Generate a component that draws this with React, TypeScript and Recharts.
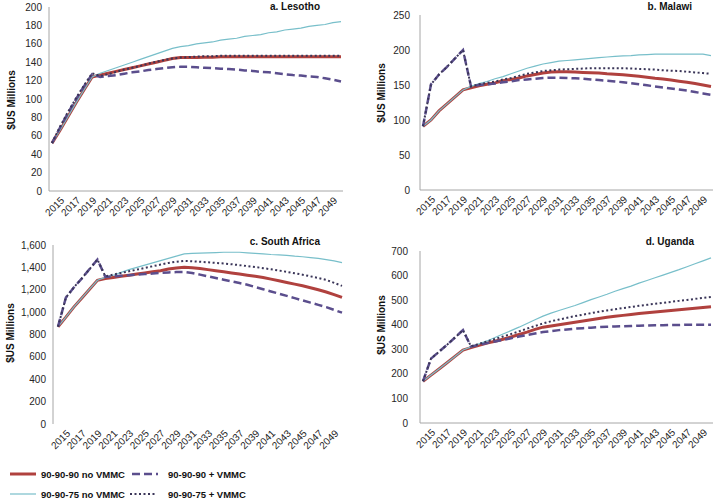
import React from 'react';
import { LineChart, Line, XAxis, YAxis } from 'recharts';

// years on the x axis
const years = [
  2014, 2015, 2016, 2017, 2018, 2019, 2020, 2021, 2022, 2023, 2024, 2025, 2026,
  2027, 2028, 2029, 2030, 2031, 2032, 2033, 2034, 2035, 2036, 2037, 2038, 2039,
  2040, 2041, 2042, 2043, 2044, 2045, 2046, 2047, 2048, 2049, 2050,
];
const yearTicks = [
  2015, 2017, 2019, 2021, 2023, 2025, 2027, 2029, 2031, 2033, 2035, 2037, 2039,
  2041, 2043, 2045, 2047, 2049,
];

// a. Lesotho
const lesothoNoVmmc90 = [
  52, 66, 81, 96, 110, 124, 126, 128, 130, 132, 134, 136, 138, 140, 142, 144, 145, 145, 145,
  145.5, 145.5, 146, 146, 146, 146, 146, 146, 146, 146, 146, 146, 146, 146, 146, 146, 146, 146,
];
const lesothoVmmc90 = [
  52, 69, 85, 100, 114, 127, 124, 125, 126, 127.5, 129, 130, 131.5, 132.5, 133.5, 134.5, 135,
  135, 134.5, 134, 133.5, 133, 132.5, 132, 131, 130.5, 129.5, 129, 128, 127, 126, 125.5, 124.5,
  124, 122.5, 121, 119,
];
const lesothoNoVmmc75 = [
  52, 66, 81, 96, 110, 124, 128, 131, 134, 137, 140, 143, 146, 149, 152, 155, 157, 158, 160,
  161, 162, 164, 165, 166, 168, 169, 170, 172, 173, 175, 176, 177, 179, 180, 181, 183, 184,
];
const lesothoVmmc75 = [
  52, 70, 86, 101, 115, 128, 125, 127, 129.5, 132, 134, 136, 138.5, 140.5, 142.5, 144, 145,
  145.5, 146, 146.5, 146.5, 147, 147, 147, 147, 147, 147, 147, 147, 147, 147, 147, 147, 147,
  147, 147, 147,
];

// b. Malawi
const malawiNoVmmc90 = [
  91, 100, 113, 123, 133, 143, 146, 149, 151, 153, 156, 158, 160, 163, 165, 167, 168.5, 169,
  169, 168.5, 168, 167.5, 167, 166, 165.5, 164.5, 163.5, 162.5, 161, 159.5, 158.5, 157, 155.5,
  154, 152, 150, 148,
];
const malawiVmmc90 = [
  91, 151, 165, 176, 188, 200, 148, 150, 151, 152, 154, 155, 157, 158, 159, 160, 160.5, 160.5,
  160, 159.5, 159, 158, 157, 156, 155, 154, 152.5, 151, 149.5, 148, 146.5, 145, 143.5, 142,
  140, 138, 136,
];
const malawiNoVmmc75 = [
  91, 100, 113, 123, 133, 143, 148, 152, 155, 159, 162, 166, 170, 174, 177, 180, 182, 184, 185,
  186, 187, 188, 189, 190, 191, 191.5, 192, 193, 193.5, 194, 194, 194, 194, 194, 194, 194, 192,
];
const malawiVmmc75 = [
  91, 151, 165, 176, 188, 200, 148, 151, 153, 155, 158, 160, 163, 166, 168, 170, 171, 172,
  172.5, 173, 173.5, 174, 174, 174, 174, 174, 173.5, 173, 172.5, 172, 171, 170.5, 170, 169,
  168, 167, 166,
];

// c. South Africa
const southAfricaNoVmmc90 = [
  870, 955, 1045, 1125, 1205, 1285, 1300, 1310, 1320, 1330, 1340, 1350, 1360, 1370, 1385,
  1395, 1400, 1397, 1390, 1380, 1370, 1360, 1350, 1340, 1330, 1320, 1310, 1295, 1280, 1265,
  1250, 1235, 1218, 1200, 1180, 1157, 1132,
];
const southAfricaVmmc90 = [
  870, 1130, 1220, 1300, 1385, 1470, 1315, 1320, 1325, 1330, 1335, 1340, 1345, 1350, 1355,
  1358, 1358, 1350, 1335, 1320, 1305, 1290, 1275, 1260, 1245, 1225, 1205, 1185, 1165, 1145,
  1125, 1105, 1085, 1065, 1045, 1020, 995,
];
const southAfricaNoVmmc75 = [
  870, 955, 1045, 1125, 1205, 1285, 1310, 1330, 1355, 1380, 1400, 1420, 1440, 1460, 1480,
  1500, 1520, 1525, 1528, 1530, 1532, 1535, 1535, 1535, 1530, 1525, 1520, 1515, 1512, 1508,
  1500, 1495, 1488, 1480, 1470, 1458, 1442,
];
const southAfricaVmmc75 = [
  870, 1130, 1220, 1300, 1385, 1470, 1320, 1335, 1350, 1365, 1380, 1395, 1410, 1425, 1440,
  1450, 1458, 1455, 1450, 1445, 1440, 1435, 1428, 1420, 1412, 1403, 1393, 1383, 1372, 1360,
  1348, 1335, 1320, 1305, 1288, 1262, 1235,
];

// d. Uganda
const ugandaNoVmmc90 = [
  170, 195, 220, 245, 271, 297, 307, 316, 325, 333, 341, 350, 360, 370, 381, 390, 395, 400,
  405, 410, 415, 420, 425, 430, 434, 438, 442, 446, 449, 452, 455, 458, 461, 464, 467, 470, 473,
];
const ugandaVmmc90 = [
  170, 262, 290, 318, 348, 378, 311, 318, 325, 332, 338, 345, 352, 358, 364, 370, 374, 378,
  381, 384, 386, 388, 390, 392, 393, 394, 395, 396, 397, 398, 398, 399, 399, 400, 400, 400, 400,
];
const ugandaNoVmmc75 = [
  170, 195, 220, 245, 271, 297, 310, 322, 334, 348, 362, 376, 390, 405, 420, 435, 447, 458,
  468, 478, 490, 502, 513, 524, 536, 547, 557, 569, 580, 591, 602, 613, 624, 636, 648, 660, 672,
];
const ugandaVmmc75 = [
  170, 262, 290, 318, 348, 378, 312, 322, 332, 342, 352, 362, 373, 384, 395, 405, 414, 421,
  428, 435, 441, 447, 453, 458, 463, 468, 472, 477, 481, 485, 489, 493, 497, 501, 505, 509, 513,
];

const FONT = '"Liberation Sans", Arial, Helvetica, sans-serif';
const AXIS_COLOR = '#a6a6a6';
const TEXT_COLOR = '#262626';

const SERIES = [
  { key: 'noVmmc90', name: '90-90-90 no VMMC', color: '#b0413e', width: 3, dash: undefined },
  { key: 'noVmmc75', name: '90-90-75 no VMMC', color: '#78bfca', width: 1.2, dash: undefined },
  { key: 'vmmc90', name: '90-90-90 + VMMC', color: '#5b4e8d', width: 2.5, dash: '8 4' },
  { key: 'vmmc75', name: '90-90-75 + VMMC', color: '#3a3558', width: 2, dash: '2 2.5' },
];

const buildRows = (a: number[], b: number[], c: number[], d: number[]) =>
  years.map((year, i) => ({ year, noVmmc90: a[i], vmmc90: b[i], noVmmc75: c[i], vmmc75: d[i] }));

const YearTick = (props: any) => {
  const { x, y, payload } = props;
  const ax = x + 5;
  const ay = y + 10;
  return (
    <text
      x={ax}
      y={ay}
      transform={`rotate(-45, ${ax}, ${ay})`}
      textAnchor="end"
      fontSize={10}
      fontFamily={FONT}
      fill={TEXT_COLOR}
    >
      {payload.value}
    </text>
  );
};

interface PanelProps {
  rows: any[];
  left: number;
  top: number;
  width: number;
  height: number;
  margin: { top: number; right: number; bottom: number; left: number };
  yAxisWidth: number;
  xAxisHeight: number;
  yMax: number;
  yTicks: number[];
  tickGap: number;
  padLeft: number;
  padRight: number;
  showXLine?: boolean;
  fmt?: (v: number) => string;
}

const Panel: React.FC<PanelProps> = (p) => (
  <div style={{ position: 'absolute', left: p.left, top: p.top }}>
    <LineChart width={p.width} height={p.height} data={p.rows} margin={p.margin}>
      <XAxis
        dataKey="year"
        type="number"
        domain={[2014, 2050]}
        ticks={yearTicks}
        interval={0}
        padding={{ left: p.padLeft, right: p.padRight }}
        height={p.xAxisHeight}
        tickLine={false}
        tickSize={0}
        tickMargin={0}
        axisLine={p.showXLine === false ? false : { stroke: AXIS_COLOR }}
        tick={<YearTick />}
      />
      <YAxis
        type="number"
        domain={[0, p.yMax]}
        ticks={p.yTicks}
        interval={0}
        width={p.yAxisWidth}
        tickLine={false}
        tickSize={0}
        tickMargin={p.tickGap}
        axisLine={{ stroke: AXIS_COLOR }}
        tickFormatter={p.fmt}
        tick={{ fontSize: 10, fill: TEXT_COLOR, fontFamily: FONT }}
      />
      {SERIES.map((s) => (
        <Line
          key={s.key}
          type="linear"
          dataKey={s.key}
          name={s.name}
          stroke={s.color}
          strokeWidth={s.width}
          strokeDasharray={s.dash}
          dot={false}
          activeDot={false}
          isAnimationActive={false}
        />
      ))}
    </LineChart>
  </div>
);

const withComma = (v: number) => v.toLocaleString('en-US');

const panelTitles = [
  { text: 'a. Lesotho', x: 320, y: 6 },
  { text: 'b. Malawi', x: 692, y: 6 },
  { text: 'c. South Africa', x: 320, y: 241 },
  { text: 'd. Uganda', x: 694, y: 241 },
];
const axisTitles = [
  { x: 11, y: 100 },
  { x: 381, y: 93 },
  { x: 10, y: 333 },
  { x: 381, y: 325 },
];
const legendItems = [
  { s: SERIES[0], x: 10, y: 474 },
  { s: SERIES[2], x: 132, y: 474 },
  { s: SERIES[1], x: 10, y: 494 },
  { s: SERIES[3], x: 130, y: 494 },
];

const App: React.FC = () => {
  const lesotho = buildRows(lesothoNoVmmc90, lesothoVmmc90, lesothoNoVmmc75, lesothoVmmc75);
  const malawi = buildRows(malawiNoVmmc90, malawiVmmc90, malawiNoVmmc75, malawiVmmc75);
  const southAfrica = buildRows(
    southAfricaNoVmmc90,
    southAfricaVmmc90,
    southAfricaNoVmmc75,
    southAfricaVmmc75,
  );
  const uganda = buildRows(ugandaNoVmmc90, ugandaVmmc90, ugandaNoVmmc75, ugandaVmmc75);

  return (
    <div
      style={{
        position: 'absolute',
        left: 0,
        top: 0,
        width: 718,
        height: 500,
        background: '#fff',
        fontFamily: FONT,
        overflow: 'hidden',
      }}
    >
      <Panel
        rows={lesotho}
        left={0}
        top={0}
        width={350}
        height={228}
        margin={{ top: 7, right: 7, bottom: 0, left: 0 }}
        yAxisWidth={49}
        xAxisHeight={37}
        yMax={200}
        yTicks={[0, 20, 40, 60, 80, 100, 120, 140, 160, 180, 200]}
        tickGap={7}
        padLeft={3}
        padRight={2}
      />
      <Panel
        rows={malawi}
        left={358}
        top={0}
        width={357}
        height={228}
        margin={{ top: 15, right: 2, bottom: 0, left: 0 }}
        yAxisWidth={62}
        xAxisHeight={38}
        yMax={250}
        yTicks={[0, 50, 100, 150, 200, 250]}
        tickGap={10}
        padLeft={3}
        padRight={2}
      />
      <Panel
        rows={southAfrica}
        left={0}
        top={232}
        width={346}
        height={228}
        margin={{ top: 13, right: 2, bottom: 0, left: 0 }}
        yAxisWidth={53}
        xAxisHeight={36}
        yMax={1600}
        yTicks={[0, 200, 400, 600, 800, 1000, 1200, 1400, 1600]}
        tickGap={7}
        padLeft={5}
        padRight={2}
        showXLine={false}
        fmt={withComma}
      />
      <Panel
        rows={uganda}
        left={358}
        top={232}
        width={357}
        height={228}
        margin={{ top: 19, right: 2, bottom: 0, left: 0 }}
        yAxisWidth={62}
        xAxisHeight={37}
        yMax={700}
        yTicks={[0, 100, 200, 300, 400, 500, 600, 700]}
        tickGap={12}
        padLeft={3}
        padRight={2}
      />

      <svg
        width={718}
        height={500}
        style={{ position: 'absolute', left: 0, top: 0, pointerEvents: 'none' }}
      >
        {panelTitles.map((t) => (
          <text
            key={t.text}
            x={t.x}
            y={t.y}
            textAnchor="end"
            dominantBaseline="central"
            fontSize={10}
            fontWeight="bold"
            fontFamily={FONT}
            fill="#111"
          >
            {t.text}
          </text>
        ))}
        {axisTitles.map((t, i) => (
          <text
            key={i}
            x={t.x}
            y={t.y}
            transform={`rotate(-90, ${t.x}, ${t.y})`}
            textAnchor="middle"
            dominantBaseline="central"
            fontSize={10}
            fontWeight="bold"
            fontFamily={FONT}
            fill="#111"
          >
            $US Millions
          </text>
        ))}
        {legendItems.map(({ s, x, y }) => (
          <g key={s.key}>
            <line
              x1={x}
              x2={x + 26}
              y1={y}
              y2={y}
              stroke={s.color}
              strokeWidth={s.width}
              strokeDasharray={s.dash}
            />
            <text
              x={x < 100 ? 41 : 168}
              y={y}
              dominantBaseline="central"
              fontSize={9.5}
              fontWeight="bold"
              fontFamily={FONT}
              fill="#111"
            >
              {s.name}
            </text>
          </g>
        ))}
      </svg>
    </div>
  );
};

export default App;
